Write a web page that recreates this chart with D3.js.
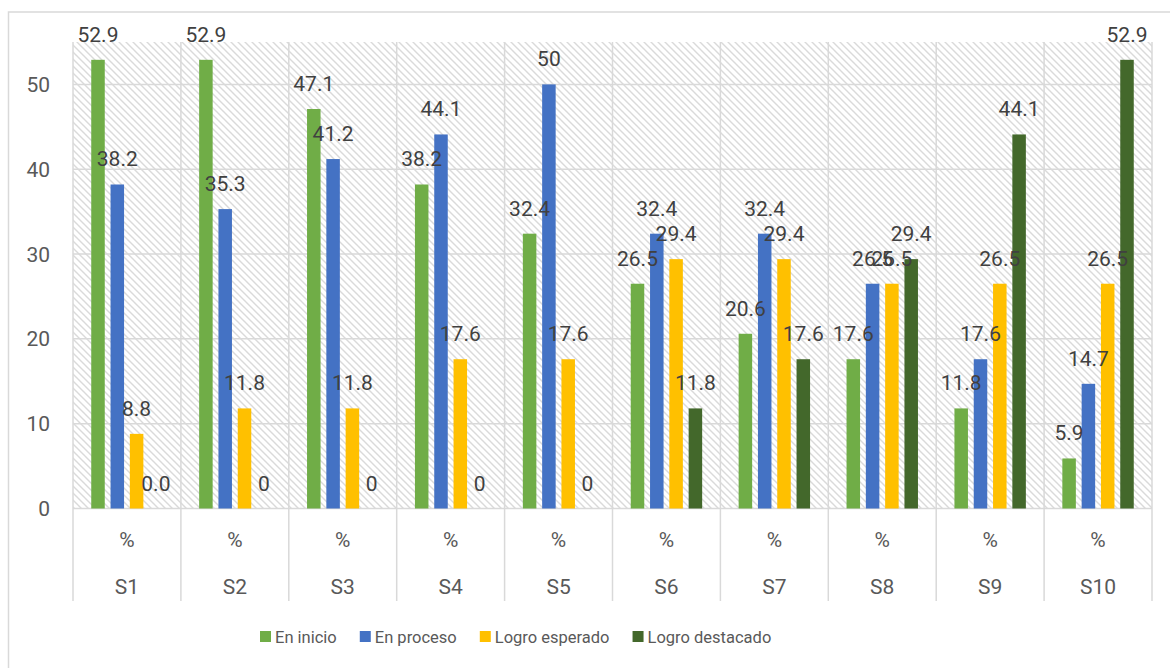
<!DOCTYPE html>
<html>
<head>
<meta charset="utf-8">
<script src="https://cdn.jsdelivr.net/npm/d3@7"></script>
<style>
  html, body { margin: 0; padding: 0; background: #fff; }
  svg { display: block; }
</style>
</head>
<body>
<svg id="chart" width="1170" height="668"></svg>
<script>
// ---- data ----
const categories = ["S1","S2","S3","S4","S5","S6","S7","S8","S9","S10"];
const subLabel = "%";
const seriesNames = ["En inicio","En proceso","Logro esperado","Logro destacado"];
const seriesColors = ["#70AD47","#4472C4","#FFC000","#43682B"];
const enInicio       = [52.9, 52.9, 47.1, 38.2, 32.4, 26.5, 20.6, 17.6, 11.8, 5.9];
const enProceso      = [38.2, 35.3, 41.2, 44.1, 50.0, 32.4, 32.4, 26.5, 17.6, 14.7];
const logroEsperado  = [8.8, 11.8, 11.8, 17.6, 17.6, 29.4, 29.4, 26.5, 26.5, 26.5];
const logroDestacado = [0.0, 0, 0, 0, 0, 11.8, 17.6, 29.4, 44.1, 52.9];
const destacadoLabels = ["0.0","0","0","0","0","11.8","17.6","29.4","44.1","52.9"];
const yTicks = [0, 10, 20, 30, 40, 50];

const seriesValues = [enInicio, enProceso, logroEsperado, logroDestacado];
const fmt = v => (v === 50 ? "50" : d3.format(".1f")(v));

// ---- layout ----
const svg = d3.select("#chart");
const plot = { left: 73, right: 1152, top: 42, bottom: 508.5 };
const catAxisBottom = 601;
const fontFam = "Roboto, 'Liberation Sans', sans-serif";

const x = d3.scaleBand().domain(categories).range([plot.left, plot.right]).paddingInner(0).paddingOuter(0);
const xi = d3.scaleBand().domain(seriesNames).range([0, x.bandwidth()]).paddingInner(0.30).paddingOuter(0.945);
const y = d3.scaleLinear().domain([0, 55]).range([plot.bottom, plot.top]);

// outer border
svg.append("rect").attr("x", 8.5).attr("y", 12).attr("width", 1175).attr("height", 680)
  .attr("fill", "none").attr("stroke", "#d9d9d9").attr("stroke-width", 1.5);

// hatch pattern
const defs = svg.append("defs");
const pat = defs.append("pattern").attr("id", "hatch").attr("patternUnits", "userSpaceOnUse")
  .attr("width", 7).attr("height", 7);
pat.append("rect").attr("width", 7).attr("height", 7).attr("fill", "#ffffff");
pat.append("path").attr("d", "M-1,-1 L8,8 M-1,6 L1,8 M6,-1 L8,1")
  .attr("stroke", "#dadada").attr("stroke-width", 1.4);

svg.append("rect").attr("x", plot.left).attr("y", plot.top)
  .attr("width", plot.right - plot.left).attr("height", plot.bottom - plot.top)
  .attr("fill", "url(#hatch)");

// horizontal gridlines
svg.append("g").selectAll("line").data(yTicks).join("line")
  .attr("x1", plot.left).attr("x2", plot.right)
  .attr("y1", d => y(d)).attr("y2", d => y(d))
  .attr("stroke", "#d9d9d9").attr("stroke-width", 1.5);

// vertical category separators
const bounds = categories.map(c => x(c)).concat([plot.right]);
svg.append("g").selectAll("line").data(bounds).join("line")
  .attr("x1", d => d).attr("x2", d => d)
  .attr("y1", plot.top).attr("y2", catAxisBottom)
  .attr("stroke", "#d9d9d9").attr("stroke-width", 1.5);

// y axis labels
svg.append("g").selectAll("text").data(yTicks).join("text")
  .attr("x", 50).attr("y", d => y(d)).attr("dy", "0.36em")
  .attr("text-anchor", "end").attr("font-family", fontFam).attr("font-size", 21)
  .attr("fill", "#595959").text(d => d);

// bars
const groups = svg.append("g").selectAll("g").data(categories).join("g")
  .attr("transform", c => `translate(${x(c)},0)`);

seriesNames.forEach((s, si) => {
  groups.append("rect")
    .attr("x", xi(s)).attr("width", xi.bandwidth())
    .attr("y", (c, ci) => y(seriesValues[si][ci]))
    .attr("height", (c, ci) => y(0) - y(seriesValues[si][ci]))
    .attr("fill", seriesColors[si]);
});

// data labels
seriesNames.forEach((s, si) => {
  groups.append("text")
    .attr("x", xi(s) + xi.bandwidth() / 2)
    .attr("y", (c, ci) => y(seriesValues[si][ci]) - 18)
    .attr("text-anchor", "middle").attr("font-family", fontFam).attr("font-size", 21)
    .attr("fill", "#404040")
    .text((c, ci) => si === 3 ? destacadoLabels[ci] : fmt(seriesValues[si][ci]));
});

// category axis labels (two levels)
svg.append("g").selectAll("text").data(categories).join("text")
  .attr("x", c => x(c) + x.bandwidth() / 2).attr("y", 539).attr("dy", "0.36em")
  .attr("text-anchor", "middle").attr("font-family", fontFam).attr("font-size", 21)
  .attr("fill", "#595959").text(subLabel);
svg.append("g").selectAll("text").data(categories).join("text")
  .attr("x", c => x(c) + x.bandwidth() / 2).attr("y", 586).attr("dy", "0.36em")
  .attr("text-anchor", "middle").attr("font-family", fontFam).attr("font-size", 21)
  .attr("fill", "#595959").text(c => c);

// legend
const legend = svg.append("g");
let lx = 260;
seriesNames.forEach((s, si) => {
  legend.append("rect").attr("x", lx).attr("y", 631).attr("width", 11).attr("height", 11)
    .attr("fill", seriesColors[si]);
  const t = legend.append("text").attr("x", lx + 15).attr("y", 637).attr("dy", "0.36em")
    .attr("font-family", fontFam).attr("font-size", 16.5).attr("fill", "#595959").text(s);
  lx += 15 + t.node().getComputedTextLength() + 23;
});
</script>
</body>
</html>
